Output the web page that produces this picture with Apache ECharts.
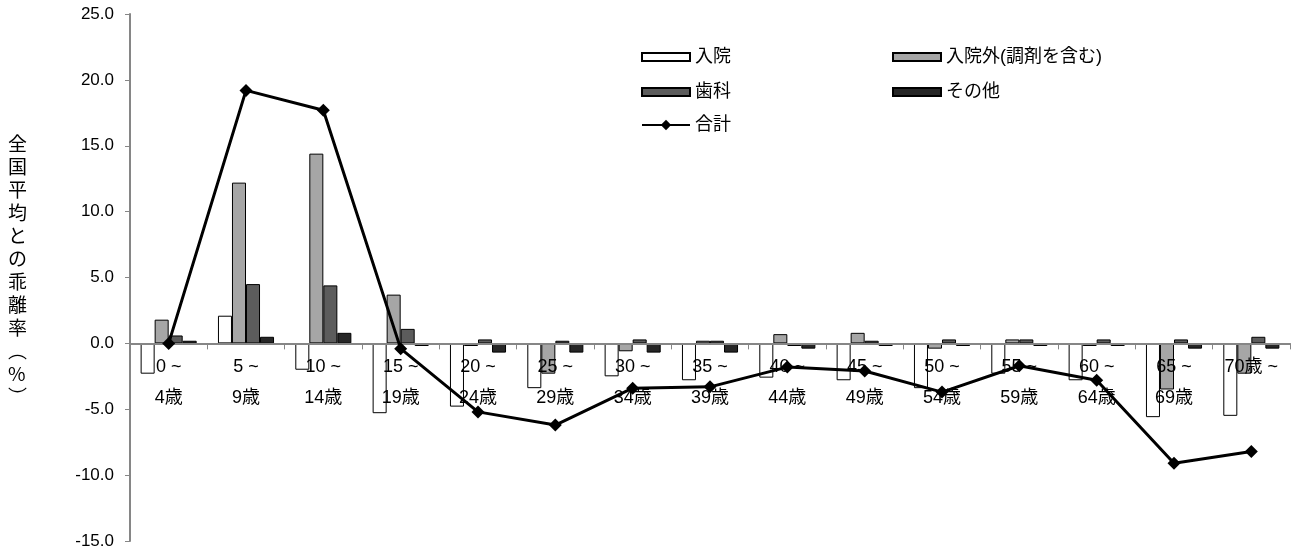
<!DOCTYPE html>
<html>
<head>
<meta charset="utf-8">
<script src="https://cdn.jsdelivr.net/npm/echarts@6/dist/echarts.min.js"></script>
<style>
html,body{margin:0;padding:0;background:#fff;}
#c{width:1295px;height:556px;}
</style>
</head>
<body>
<div id="c"></div>
<script>
const categories = ['0 ~\n4歳','5 ~\n9歳','10 ~\n14歳','15 ~\n19歳','20 ~\n24歳','25 ~\n29歳','30 ~\n34歳','35 ~\n39歳','40 ~\n44歳','45 ~\n49歳','50 ~\n54歳','55 ~\n59歳','60 ~\n64歳','65 ~\n69歳','70歳 ~'];
const inpatient = [-2.3, 2.1, -2.0, -5.3, -4.8, -3.4, -2.5, -2.8, -2.6, -2.8, -3.4, -2.3, -2.8, -5.6, -5.5];
const outpatient = [1.8, 12.2, 14.4, 3.7, -0.2, -2.3, -0.6, 0.2, 0.7, 0.8, -0.4, 0.3, -0.2, -3.5, -2.3];
const dental = [0.6, 4.5, 4.4, 1.1, 0.3, 0.2, 0.3, 0.2, -0.2, 0.2, 0.3, 0.3, 0.3, 0.3, 0.5];
const other = [0.2, 0.5, 0.8, -0.2, -0.7, -0.7, -0.7, -0.7, -0.4, -0.2, -0.2, -0.2, -0.2, -0.4, -0.4];
const total = [0.0, 19.2, 17.7, -0.4, -5.2, -6.2, -3.4, -3.3, -1.8, -2.1, -3.7, -1.7, -2.8, -9.1, -8.2];
const seriesNames = ['入院', '入院外(調剤を含む)', '歯科', 'その他', '合計'];
const yTitle = '全国平均との乖離率︵%︶';
const yMin = -15, yMax = 25, yStep = 5;

const FONT = "'Liberation Sans', Arial, 'Noto Sans CJK JP', sans-serif";
const GRID_TOP = 14, GRID_BOTTOM = 15, H = 556;
const gridH = H - GRID_TOP - GRID_BOTTOM;
const zeroOffset = -(gridH * (0 - yMin) / (yMax - yMin));

const chart = echarts.init(document.getElementById('c'));

function legendAt(name, left, top, icon, ih) {
  const l = {
    data: [name], left: left, top: top,
    itemWidth: 48, itemHeight: ih || 8, itemGap: 6,
    textStyle: {fontFamily: FONT, fontSize: 18, color: '#000', lineHeight: 20}
  };
  if (icon) l.icon = icon;
  return l;
}

function barSeries(name, data, color) {
  return {
    name: name, type: 'bar', data: data, z: 1,
    barGap: '0%', barCategoryGap: '27.5%',
    itemStyle: {color: color, borderColor: '#000', borderWidth: 1},
    emphasis: {disabled: true}
  };
}

chart.setOption({
  animation: false,
  backgroundColor: '#fff',
  grid: {left: 130, right: 5, top: GRID_TOP, bottom: GRID_BOTTOM, containLabel: false, outerBoundsMode: 'none'},
  legend: [
    legendAt(seriesNames[0], 636, 42, 'rect'),
    legendAt(seriesNames[1], 887, 42, 'rect'),
    legendAt(seriesNames[2], 636, 77, 'rect'),
    legendAt(seriesNames[3], 887, 77, 'rect'),
    legendAt(seriesNames[4], 636, 110, null, 13)
  ],
  graphic: [{
    type: 'text', left: 8, top: 132,
    style: {
      text: yTitle.split('').join('\n'),
      font: "19px 'Noto Sans CJK JP', sans-serif",
      lineHeight: 23, fill: '#000', align: 'center'
    }
  }],
  xAxis: {
    type: 'category', data: categories, position: 'bottom', offset: zeroOffset, z: 3,
    axisLine: {onZero: false, lineStyle: {color: '#868686', width: 2}},
    axisTick: {show: true, alignWithLabel: false, length: 6, lineStyle: {color: '#868686', width: 1}},
    axisLabel: {interval: 0, fontFamily: FONT, fontSize: 18, color: '#000', lineHeight: 31, margin: 8}
  },
  yAxis: {
    type: 'value', min: yMin, max: yMax, interval: yStep,
    splitLine: {show: false},
    axisLine: {show: true, lineStyle: {color: '#868686', width: 2}},
    axisTick: {show: true, length: 5, lineStyle: {color: '#868686'}},
    axisLabel: {fontFamily: FONT, fontSize: 17, color: '#000', margin: 16,
      formatter: v => v.toFixed(1)}
  },
  series: [
    barSeries(seriesNames[0], inpatient, '#ffffff'),
    barSeries(seriesNames[1], outpatient, '#a6a6a6'),
    barSeries(seriesNames[2], dental, '#5c5c5c'),
    barSeries(seriesNames[3], other, '#262626'),
    {
      name: seriesNames[4], type: 'line', data: total, z: 5,
      symbol: 'diamond', symbolSize: 13,
      lineStyle: {color: '#000', width: 3},
      itemStyle: {color: '#000'},
      emphasis: {disabled: true}
    }
  ]
});
</script>
</body>
</html>
